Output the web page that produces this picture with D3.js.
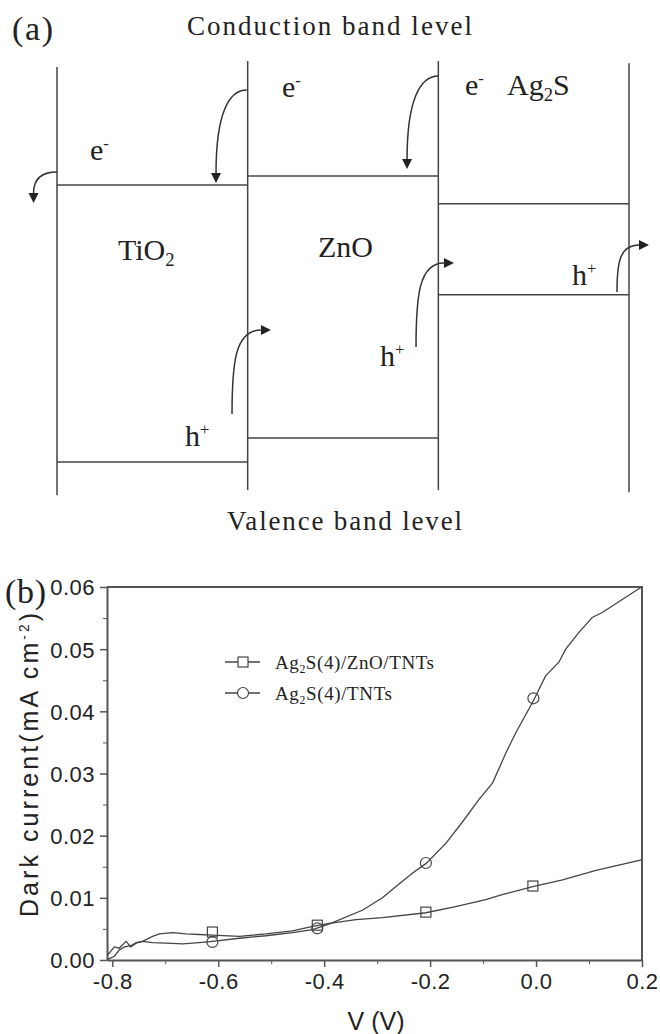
<!DOCTYPE html>
<html>
<head>
<meta charset="utf-8">
<script src="https://cdn.jsdelivr.net/npm/d3@7"></script>
<style>
  body { margin: 0; background: #fff; }
  svg text { fill: #222; }
</style>
</head>
<body>
<svg id="chart" width="660" height="1034"></svg>
<script>
// ---------- panel (a): band diagram (level units 0..100, columns 0..3)
const wallCols = [0, 1, 2, 3];
const wallTop = [1.4, 0, 0, 0.5];
const wallBottom = [101.2, 100, 100, 100.5];
const cbLevels = [28.9, 26.8, 33.3];   // TiO2, ZnO, Ag2S
const vbLevels = [93.5, 87.9, 54.5];

// arrows: start [col, level], tip [col, level], direction of the head
const arrowFrom = [[0, 25.87], [0.995, 6.76], [2.001, 3.5], [0.918, 82.28], [1.883, 66.67], [2.937, 53.85]];
const arrowTo = [[-0.123, 33.1], [0.834, 28.44], [1.836, 25.17], [1.122, 62.7], [2.082, 47.09], [3.105, 42.89]];
const arrowDir = ["down", "down", "down", "right", "right", "right"];

// labels: text parts, [col, level] of baseline start
const labelParts = [
  [["e", "n"], ["-", "sup"]],
  [["e", "n"], ["-", "sup"]],
  [["e", "n"], ["-", "sup"]],
  [["Ag", "n"], ["2", "sub"], ["S", "n"]],
  [["TiO", "n"], ["2", "sub"]],
  [["ZnO", "n"]],
  [["h", "n"], ["+", "sup"]],
  [["h", "n"], ["+", "sup"]],
  [["h", "n"], ["+", "sup"]]
];
const labelPos = [[0.173, 23.08], [1.18, 8.39], [2.14, 7.93], [2.36, 7.93], [0.32, 46.39], [1.369, 45.69], [1.694, 71.1], [0.671, 89.74], [2.701, 52.21]];

// ---------- panel (b): dark current vs voltage
const xMajor = [-0.8, -0.6, -0.4, -0.2, 0.0, 0.2];
const xMinor = [-0.7, -0.5, -0.3, -0.1, 0.1];
const yMajor = [0.00, 0.01, 0.02, 0.03, 0.04, 0.05, 0.06];
const yMinor = [0.005, 0.015, 0.025, 0.035, 0.045, 0.055];

const znoV = [-0.809, -0.796, -0.787, -0.774, -0.765, -0.755, -0.743, -0.724, -0.711, -0.686, -0.661, -0.636, -0.611, -0.56, -0.51, -0.46, -0.422, -0.39, -0.34, -0.29, -0.208, -0.152, -0.095, -0.064, -0.006, 0.05, 0.113, 0.199];
const znoI = [0.0008, 0.0021, 0.0019, 0.0030, 0.0021, 0.0027, 0.0030, 0.0038, 0.0042, 0.0044, 0.0042, 0.0041, 0.0040, 0.0038, 0.0042, 0.0047, 0.0054, 0.0059, 0.0065, 0.0068, 0.0076, 0.0086, 0.0097, 0.0105, 0.0118, 0.0129, 0.0144, 0.0161];
const tntV = [-0.809, -0.796, -0.787, -0.777, -0.765, -0.755, -0.743, -0.724, -0.699, -0.667, -0.636, -0.611, -0.56, -0.51, -0.46, -0.422, -0.39, -0.328, -0.29, -0.265, -0.233, -0.208, -0.17, -0.139, -0.108, -0.082, -0.057, -0.038, -0.005, 0.018, 0.043, 0.056, 0.081, 0.106, 0.125, 0.199];
const tntI = [0.0001, 0.0006, 0.0016, 0.0021, 0.0023, 0.0028, 0.0030, 0.0028, 0.0027, 0.0026, 0.0028, 0.0030, 0.0035, 0.0039, 0.0044, 0.0049, 0.0058, 0.0080, 0.0100, 0.0118, 0.0140, 0.0155, 0.0188, 0.0222, 0.0258, 0.0285, 0.0333, 0.0366, 0.0417, 0.0457, 0.0479, 0.0500, 0.0527, 0.0551, 0.0559, 0.0600];

const znoMarkV = [-0.611, -0.413, -0.208, -0.006];
const znoMarkI = [0.0045, 0.0056, 0.0077, 0.0119];
const tntMarkV = [-0.611, -0.413, -0.208, -0.005];
const tntMarkI = [0.0029, 0.0051, 0.0156, 0.0421];

const seriesNames = ["Ag2S(4)/ZnO/TNTs", "Ag2S(4)/TNTs"];

const svg = d3.select("#chart");
const lineColor = "#444";
const serif = "'Liberation Serif', 'Times New Roman', serif";
const sans = "'Liberation Sans', Arial, sans-serif";

// helper: text with sub / superscripts
function richText(g, x, y, parts, size, family) {
    const t = g.append("text")
        .attr("x", x).attr("y", y)
        .attr("font-family", family)
        .attr("font-size", size);
    let shift = 0;
    parts.forEach(function (p) {
        let target = 0;
        let fs = size;
        if (p[1] === "sup") { target = -size * 0.38; fs = size * 0.55; }
        if (p[1] === "sub") { target = size * 0.2; fs = size * 0.62; }
        t.append("tspan")
            .attr("dy", target - shift)
            .attr("font-size", fs)
            .text(p[0]);
        shift = target;
    });
    return t;
}

// ===== panel (a)
const bx = d3.scaleLinear().domain([0, 3]).range([57, 629]);
const ly = d3.scaleLinear().domain([0, 100]).range([61, 490]);
const gA = svg.append("g");

gA.selectAll("line.wall").data(wallCols).join("line")
    .attr("class", "wall")
    .attr("x1", d => bx(d)).attr("x2", d => bx(d))
    .attr("y1", (d, i) => ly(wallTop[i]))
    .attr("y2", (d, i) => ly(wallBottom[i]))
    .attr("stroke", lineColor).attr("stroke-width", 1.5);

[cbLevels, vbLevels].forEach(function (levels) {
    gA.selectAll(null).data(levels).join("line")
        .attr("x1", (d, i) => bx(i)).attr("x2", (d, i) => bx(i + 1))
        .attr("y1", d => ly(d)).attr("y2", d => ly(d))
        .attr("stroke", lineColor).attr("stroke-width", 1.5);
});

// curved arrows
arrowFrom.forEach(function (from, i) {
    const sx = bx(from[0]), sy = ly(from[1]);
    const tx = bx(arrowTo[i][0]), ty = ly(arrowTo[i][1]);
    const head = 10, half = 5;
    let path, tri;
    if (arrowDir[i] === "down") {
        const ex = tx, ey = ty - head;
        path = `M${sx},${sy} C${sx - 0.6 * (sx - ex)},${sy} ${ex},${sy + 0.3 * (ey - sy)} ${ex},${ey}`;
        tri = `M${tx - half},${ty - head} L${tx + half},${ty - head} L${tx},${ty} Z`;
    } else {
        const ex = tx - head, ey = ty;
        path = `M${sx},${sy} C${sx},${sy - 0.6 * (sy - ey)} ${sx + 0.1 * (ex - sx)},${ey} ${ex},${ey}`;
        tri = `M${tx - head},${ty - half} L${tx - head},${ty + half} L${tx},${ty} Z`;
    }
    gA.append("path").attr("d", path).attr("fill", "none")
        .attr("stroke", "#333").attr("stroke-width", 1.5);
    gA.append("path").attr("d", tri).attr("fill", "#222");
});

labelParts.forEach(function (parts, i) {
    richText(gA, bx(labelPos[i][0]), ly(labelPos[i][1]), parts, 30, serif);
});

gA.append("text").attr("x", bx(1.429)).attr("y", ly(-6.06))
    .attr("text-anchor", "middle").attr("font-family", serif).attr("font-size", 27)
    .attr("textLength", 285).attr("lengthAdjust", "spacing")
    .text("Conduction band level");
gA.append("text").attr("x", bx(1.508)).attr("y", ly(109.3))
    .attr("text-anchor", "middle").attr("font-family", serif).attr("font-size", 27)
    .attr("textLength", 235).attr("lengthAdjust", "spacing")
    .text("Valence band level");
gA.append("text").attr("x", 12).attr("y", 40)
    .attr("font-family", serif).attr("font-size", 34)
    .attr("textLength", 41).attr("lengthAdjust", "spacing")
    .text("(a)");

// ===== panel (b)
const x = d3.scaleLinear().domain([-0.81, 0.2]).range([107, 642]);
const y = d3.scaleLinear().domain([0, 0.06]).range([960, 587]);
const gB = svg.append("g");
const axisColor = "#555";

gB.append("g").attr("transform", "translate(0,960)")
    .attr("color", axisColor)
    .call(d3.axisBottom(x).tickValues(xMinor).tickSize(4).tickFormat(""))
    .call(g => g.select(".domain").remove());
gB.append("g").attr("transform", "translate(107,0)")
    .attr("color", axisColor)
    .call(d3.axisLeft(y).tickValues(yMinor).tickSize(4).tickFormat(""))
    .call(g => g.select(".domain").remove());

const xAxis = gB.append("g").attr("transform", "translate(0,960)")
    .attr("color", axisColor)
    .call(d3.axisBottom(x).tickValues(xMajor).tickSize(7).tickSizeOuter(0).tickPadding(6)
        .tickFormat(d => d.toFixed(1)));
const yAxis = gB.append("g").attr("transform", "translate(107,0)")
    .attr("color", axisColor)
    .call(d3.axisLeft(y).tickValues(yMajor).tickSize(7).tickSizeOuter(0).tickPadding(5)
        .tickFormat(d => d.toFixed(2)));
[xAxis, yAxis].forEach(function (a) {
    a.select(".domain").attr("stroke-width", 2);
    a.selectAll(".tick line").attr("stroke-width", 1.5);
    a.selectAll(".tick text").attr("font-family", sans).attr("font-size", 22)
        .attr("letter-spacing", 0.5).attr("fill", "#222");
});
xAxis.selectAll(".tick text").attr("dy", "0.72em");
yAxis.selectAll(".tick text").attr("dy", "0.36em");

// frame top / right
gB.append("path")
    .attr("d", `M${x(-0.81)},${y(0.06)} H${x(0.2)} V${y(0)}`)
    .attr("fill", "none").attr("stroke", axisColor).attr("stroke-width", 2);

const line = d3.line().x(d => x(d[0])).y(d => y(d[1]));
const znoPts = znoV.map((v, i) => [v, znoI[i]]);
const tntPts = tntV.map((v, i) => [v, tntI[i]]);

gB.append("path").datum(znoPts).attr("d", line)
    .attr("fill", "none").attr("stroke", lineColor).attr("stroke-width", 1.3);
gB.append("path").datum(tntPts).attr("d", line)
    .attr("fill", "none").attr("stroke", lineColor).attr("stroke-width", 1.3);

gB.selectAll("rect.mk").data(znoMarkV).join("rect")
    .attr("class", "mk")
    .attr("x", d => x(d) - 5).attr("y", (d, i) => y(znoMarkI[i]) - 5)
    .attr("width", 10).attr("height", 10)
    .attr("fill", "none").attr("stroke", lineColor).attr("stroke-width", 1.2);
gB.selectAll("circle.mk").data(tntMarkV).join("circle")
    .attr("class", "mk")
    .attr("cx", d => x(d)).attr("cy", (d, i) => y(tntMarkI[i]))
    .attr("r", 5.5)
    .attr("fill", "none").attr("stroke", lineColor).attr("stroke-width", 1.2);

// legend
const legY = [662, 693];
const legText = [
    [["Ag", "n"], ["2", "sub"], ["S(4)/ZnO/TNTs", "n"]],
    [["Ag", "n"], ["2", "sub"], ["S(4)/TNTs", "n"]]
];
const legLen = [159, 117];
seriesNames.forEach(function (name, i) {
    gB.append("line").attr("x1", 225).attr("x2", 260)
        .attr("y1", legY[i]).attr("y2", legY[i])
        .attr("stroke", lineColor).attr("stroke-width", 1.3);
    if (i === 0) {
        gB.append("rect").attr("x", 238).attr("y", legY[i] - 5).attr("width", 10).attr("height", 10)
            .attr("fill", "#fff").attr("stroke", lineColor).attr("stroke-width", 1.2);
    } else {
        gB.append("circle").attr("cx", 243).attr("cy", legY[i]).attr("r", 5.5)
            .attr("fill", "#fff").attr("stroke", lineColor).attr("stroke-width", 1.2);
    }
    richText(gB, 275, legY[i] + 7, legText[i], 19, serif)
        .attr("textLength", legLen[i]).attr("lengthAdjust", "spacing");
});

// axis titles
gB.append("text").attr("x", 376).attr("y", 1030)
    .attr("text-anchor", "middle").attr("font-family", sans).attr("font-size", 25)
    .text("V (V)");
richText(gB.append("g").attr("transform", "translate(38,765) rotate(-90)"), 0, 0,
    [["Dark current(mA cm", "n"], ["-2", "sup"], [")", "n"]], 25, sans)
    .attr("text-anchor", "middle")
    .attr("textLength", 304).attr("lengthAdjust", "spacing");

gB.append("text").attr("x", 5).attr("y", 603)
    .attr("font-family", serif).attr("font-size", 34)
    .attr("textLength", 41).attr("lengthAdjust", "spacing")
    .text("(b)");
</script>
</body>
</html>
